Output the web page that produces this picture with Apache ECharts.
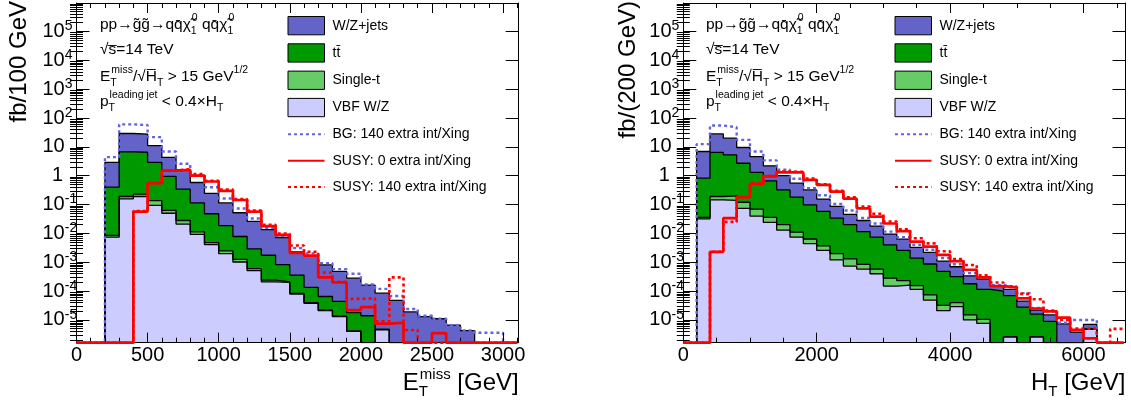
<!DOCTYPE html>
<html><head><meta charset="utf-8">
<script src="https://cdn.jsdelivr.net/npm/echarts@6/dist/echarts.min.js"></script>
<style>html,body{margin:0;padding:0;background:#fff}#c{width:1131px;height:402px}</style>
</head><body><div id="c"></div>
<script>
// ---------------- data ----------------
// Left panel: E_T^miss, 100 GeV bins (lower edges 0..3000, upper edge 3100)
const metEdges = [0,100,200,300,400,500,600,700,800,900,1000,1100,1200,1300,1400,1500,1600,1700,1800,1900,2000,2100,2200,2300,2400,2500,2600,2700,2800,2900,3000,3100];
// stack heights (top of each layer of the stack)
const metWZ   = [0,0,2.9,29,27.6,11.1,4.3,1.6,0.58,0.245,0.114,0.052,0.026,0.0135,0.0072,0.0023,0.0017,8.1e-4,4.8e-4,2.8e-4,1.6e-4,8.5e-5,4.8e-5,1.9e-5,1.3e-5,1.1e-5,6.6e-6,4.3e-6,0,0,0];
const metTT   = [0,0,0.40,6.7,6.5,2.9,0.94,0.34,0.114,0.048,0.0187,0.0078,0.0029,0.00175,8.3e-4,3.6e-4,1.35e-4,6.5e-5,4.4e-5,1.8e-5,1.4e-5,4.7e-6,0,0,0,0,0,0,0,0,0];
const metST   = [0,0,0.0085,0.19,0.23,0.137,0.063,0.028,0.0113,0.0048,0.0025,0.00126,6.0e-4,2.4e-4,2.1e-4,8.3e-5,4.0e-5,2.2e-5,1.35e-5,4.2e-6,0,4.7e-6,0,0,0,0,0,0,0,0,0];
const metVBF  = [0,0,0.0074,0.158,0.19,0.093,0.050,0.021,0.0093,0.0041,0.0020,0.00102,5.1e-4,2.1e-4,2.0e-4,7.9e-5,3.8e-5,2.1e-5,1.3e-5,4.0e-6,0,4.5e-6,0,0,0,0,0,0,0,0,0];
const metBG140   = [0,0,4.4,60,57,21.7,6.9,2.6,0.99,0.40,0.162,0.073,0.033,0.0155,0.0082,0.0031,0.0020,9.3e-4,5.8e-4,4.0e-4,1.7e-4,1.2e-4,6.8e-5,2.4e-5,1.4e-5,1.1e-5,6.6e-6,4.3e-6,3.6e-6,3.6e-6,0];
const metSUSY0   = [0,0,0,0,0.057,0.55,1.5,1.6,1.0,0.63,0.30,0.144,0.057,0.018,0.0089,0.0021,0.0017,3.0e-4,2.0e-4,2.2e-5,2.8e-5,7.5e-6,8e-6,0,0,3.5e-6,0,0,0,0,0];
const metSUSY140 = [0,0,0,0,0.06,0.56,1.5,1.7,1.15,0.66,0.33,0.155,0.062,0.02,0.0098,0.0038,0.0023,4.4e-4,2.1e-4,5.4e-5,5.6e-5,9e-6,3e-4,4.5e-6,0,0,0,0,0,0,0];

// Right panel: H_T, 200 GeV bins (lower edges 0..6400, upper edge 6600)
const htEdges = [0,200,400,600,800,1000,1200,1400,1600,1800,2000,2200,2400,2600,2800,3000,3200,3400,3600,3800,4000,4200,4400,4600,4800,5000,5200,5400,5600,5800,6000,6200,6400,6600];
const htWZ   = [0,6.9,28,20,9.5,4.6,2.2,1.0,0.55,0.32,0.155,0.086,0.046,0.028,0.018,0.0095,0.0063,0.0033,0.0022,0.0011,7e-4,3.4e-4,2.6e-4,1.5e-4,1.15e-4,4.5e-5,2.2e-5,1.5e-5,7.3e-6,3.8e-6,7e-6,0,0];
const htTT   = [0,0.82,6.4,5.3,2.7,1.3,0.66,0.32,0.18,0.097,0.058,0.034,0.020,0.0116,0.0074,0.004,0.0026,0.0014,8.7e-4,4.8e-4,3.2e-4,1.8e-4,1.15e-4,1.0e-4,7e-5,2.8e-5,1.6e-5,9e-6,0,0,4.8e-6,0,0];
const htST   = [0,0.036,0.19,0.20,0.12,0.069,0.036,0.020,0.011,0.0064,0.0037,0.0020,0.0013,8.5e-4,5.8e-4,2.8e-4,2.3e-4,1.55e-4,7.4e-5,3.2e-5,4.0e-5,1.5e-5,1.05e-5,0,2.6e-6,0,2.6e-6,0,0,0,4.8e-6,0,0];
const htVBF  = [0,0.032,0.145,0.14,0.074,0.040,0.024,0.013,0.0074,0.0044,0.0026,0.0012,7.4e-4,5.8e-4,4.0e-4,1.5e-4,1.6e-4,1.15e-4,4.9e-5,2.1e-5,2.9e-5,1.0e-5,7.6e-6,0,2.6e-6,0,2.6e-6,0,0,0,4.8e-6,0,0];
const htBG140   = [0,12.4,55,48,17.4,6.9,3.4,1.6,0.78,0.37,0.21,0.105,0.062,0.034,0.022,0.0115,0.0074,0.004,0.0027,0.0014,8.5e-4,4.2e-4,3.0e-4,1.6e-4,1.4e-4,8.5e-5,2.6e-5,2.0e-5,8e-6,1e-5,1e-5,0,0];
const htSUSY0   = [0,0,0.0023,0.034,0.18,0.52,0.94,1.3,1.3,0.72,0.48,0.28,0.16,0.074,0.038,0.022,0.012,0.0052,0.0035,0.0018,0.0011,5.5e-4,3.0e-4,1.5e-4,1.35e-4,5.6e-5,2.5e-5,2.0e-5,1.2e-5,4.5e-6,2.3e-6,0,0];
const htSUSY140 = [0,0,0.0023,0.025,0.18,0.55,1.0,1.4,1.35,0.8,0.5,0.3,0.18,0.085,0.048,0.026,0.014,0.0068,0.0045,0.0024,0.0013,8e-4,3.5e-4,2e-4,1.4e-4,8e-5,5.2e-5,2.1e-5,1e-5,5e-6,5e-6,0,4.9e-6];

// axis tick values (decades carry labels)
const yDecadeTicks = [1e-5,1e-4,1e-3,1e-2,1e-1,1,10,100,1e3,1e4,1e5];
const seriesNames = ['W/Z+jets','tt\u0304','Single-t','VBF W/Z','BG: 140 extra int/Xing','SUSY: 0 extra int/Xing','SUSY: 140 extra int/Xing'];

// ---------------- styling ----------------
const FONT = '"Liberation Sans", Arial, Helvetica, sans-serif';
const COL = {wz:'#6464c8', tt:'#009900', st:'#66cc66', vbf:'#ccccff', bg:'#6464dc', red:'#ff0000'};
const Y_MIN = 1.63e-6, Y_MAX = 9.66e5;
const yMinorTicks = [];
for (let e = -6; e <= 5; e++) for (let m = 2; m <= 9; m++) { const v = m * Math.pow(10, e); if (v > Y_MIN && v < Y_MAX) yMinorTicks.push(v); }

function histData(edges, vals) {
  const pts = vals.map((v, i) => [edges[i], v > 0 ? v : Y_MIN]);
  const last = vals[vals.length - 1];
  pts.push([edges[edges.length - 1], last > 0 ? last : Y_MIN]);
  return pts;
}
function fmtPow(v) {
  const e = Math.round(Math.log10(v));
  if (e === 0) return '{one|1}';
  if (e === 1) return '{b|10}';
  return '{b|10}{s|' + e + '}';
}

const panels = [
  { edges: metEdges, wz: metWZ, tt: metTT, st: metST, vbf: metVBF, bg: metBG140, s0: metSUSY0, s140: metSUSY140,
    grid: {left: 76.5, top: 3, width: 442.2, height: 339.7}, xMax: 3110, xInt: 500, xMinor: 5,
    legendLeft: 287, textLeft: 100, yTitle: 'fb/100 GeV', yTitleX: 19,
    xTitle: '{t|E}{sb|T}{sp|miss}{t| [GeV]}' },
  { edges: htEdges, wz: htWZ, tt: htTT, st: htST, vbf: htVBF, bg: htBG140, s0: htSUSY0, s140: htSUSY140,
    grid: {left: 683.3, top: 3, width: 442.2, height: 339.7}, xMax: 6630, xInt: 2000, xMinor: 4,
    legendLeft: 894, textLeft: 706, yTitle: 'fb/(200 GeV)', yTitleX: 628,
    xTitle: '{t|H}{sn|T}{t| [GeV]}' }
];

const grids = [], xAxes = [], yAxes = [], series = [], legends = [], graphics = [];
const tickLine = {color: '#000', width: 1};

panels.forEach((P, p) => {
  grids.push(Object.assign({}, P.grid));
  ['bottom', 'top'].forEach(pos => {
    xAxes.push({
      type: 'value', gridIndex: p, position: pos, min: 0, max: P.xMax, interval: P.xInt, z: 10,
      axisLine: {show: true, onZero: false, lineStyle: tickLine},
      axisTick: {show: true, inside: true, length: 10, lineStyle: tickLine},
      minorTick: {show: true, splitNumber: P.xMinor, length: 5, lineStyle: tickLine},
      axisLabel: {show: pos === 'bottom', margin: 3, fontSize: 20, fontFamily: FONT, color: '#000',
        formatter: v => (v % P.xInt === 0 ? String(v) : '')},
      splitLine: {show: false}, minorSplitLine: {show: false}
    });
  });
  ['left', 'right'].forEach(pos => {
    yAxes.push({
      type: 'log', logBase: 10, gridIndex: p, position: pos, min: Y_MIN, max: Y_MAX, z: 10,
      axisLine: {show: true, onZero: false, lineStyle: tickLine},
      axisTick: {show: true, inside: true, length: 13, customValues: yDecadeTicks, lineStyle: tickLine},
      axisLabel: pos === 'left' ? {
        show: true, customValues: yDecadeTicks, align: 'left', margin: 34, formatter: fmtPow,
        rich: {
          b: {fontSize: 20, fontFamily: FONT, color: '#000', lineHeight: 24},
          one: {fontSize: 20, fontFamily: FONT, color: '#000', lineHeight: 24, padding: [0, 0, 0, 9.5]},
          s: {fontSize: 14, fontFamily: FONT, color: '#000', lineHeight: 14, verticalAlign: 'top'}
        }
      } : {show: false},
      splitLine: {show: false}, minorTick: {show: false}
    });
    yAxes.push({
      type: 'log', logBase: 10, gridIndex: p, position: pos, min: Y_MIN, max: Y_MAX, z: 10,
      axisLine: {show: false},
      axisTick: {show: true, inside: true, length: 6.5, customValues: yMinorTicks, lineStyle: tickLine},
      axisLabel: {show: false}, splitLine: {show: false}, minorTick: {show: false}
    });
  });
  const xi = p * 2, yi = p * 4;
  const base = {type: 'line', step: 'end', symbol: 'none', showSymbol: false, xAxisIndex: xi, yAxisIndex: yi,
    silent: true, clip: true, emphasis: {disabled: true}};
  const fills = [['wz', COL.wz, 0], ['tt', COL.tt, 1], ['st', COL.st, 2], ['vbf', COL.vbf, 3]];
  fills.forEach(([k, c, n]) => {
    series.push(Object.assign({}, base, {
      name: seriesNames[n], data: histData(P.edges, P[k]), color: c,
      lineStyle: {color: '#000', width: 1.3},
      areaStyle: {color: c, opacity: 1, origin: 'start'}
    }));
  });
  series.push(Object.assign({}, base, {name: seriesNames[4], data: histData(P.edges, P.bg), color: COL.bg,
    lineStyle: {color: COL.bg, width: 2.4, type: [3, 3]}}));
  series.push(Object.assign({}, base, {name: seriesNames[5], data: histData(P.edges, P.s0), color: COL.red, z: 11,
    lineStyle: {color: COL.red, width: 2.7}}));
  series.push(Object.assign({}, base, {name: seriesNames[6], data: histData(P.edges, P.s140), color: COL.red, z: 11,
    lineStyle: {color: COL.red, width: 2.6, type: [3, 3]}}));

  const noSym = {opacity: 0};
  legends.push({
    orient: 'vertical', left: P.legendLeft, top: 16, padding: 0, itemGap: 8, itemWidth: 36.5, itemHeight: 18.3,
    selectedMode: false,
    textStyle: {fontSize: 14, fontFamily: FONT, color: '#000', lineHeight: 18.3, padding: [0, 0, 0, 3]},
    data: [
      {name: seriesNames[0], icon: 'rect', itemStyle: {color: COL.wz, borderColor: '#000', borderWidth: 1}},
      {name: seriesNames[1], icon: 'rect', itemStyle: {color: COL.tt, borderColor: '#000', borderWidth: 1}},
      {name: seriesNames[2], icon: 'rect', itemStyle: {color: COL.st, borderColor: '#000', borderWidth: 1}},
      {name: seriesNames[3], icon: 'rect', itemStyle: {color: COL.vbf, borderColor: '#000', borderWidth: 1}},
      {name: seriesNames[4], itemStyle: noSym}, {name: seriesNames[5], itemStyle: noSym}, {name: seriesNames[6], itemStyle: noSym}
    ]
  });

  const rich = {
    m: {fontSize: 15.5, fontFamily: FONT, fill: '#000', lineHeight: 24, verticalAlign: 'middle', align: 'left'},
    sp: {fontSize: 10.5, fontFamily: FONT, fill: '#000', lineHeight: 12, verticalAlign: 'top', align: 'left'},
    sb: {fontSize: 10.5, fontFamily: FONT, fill: '#000', lineHeight: 12, verticalAlign: 'bottom', width: 1, align: 'left'},
    sn: {fontSize: 10.5, fontFamily: FONT, fill: '#000', lineHeight: 12, verticalAlign: 'bottom', align: 'left'}
  };
  const lines = [
    ['{m|pp\u2192g\u0303g\u0303\u2192qq\u0304\u03C7\u0303}{sb|1}{sp|0}{m| qq\u0304\u03C7\u0303}{sb|1}{sp|0}', 25],
    ['{m|\u221As\u0305=14 TeV}', 50],
    ['{m|E}{sb|T}{sp|miss}{m|/\u221AH\u0305}{sn|T}{m| > 15 GeV}{sp|1/2}', 77],
    ['{m|p}{sb|T}{sp|leading jet}{m| < 0.4\u00D7H}{sn|T}', 102]
  ];
  lines.forEach(([t, y]) => graphics.push({type: 'text', x: P.textLeft, y: y, z: 20,
    style: {text: t, rich: rich, align: 'left', verticalAlign: 'middle', fill: '#000', fontFamily: FONT, fontSize: 15.5}}));

  graphics.push({type: 'text', x: P.yTitleX, y: 1, rotation: Math.PI / 2, z: 20,
    style: {text: P.yTitle, fontSize: 24, fontFamily: FONT, fill: '#000', align: 'right', verticalAlign: 'middle'}});
  graphics.push({type: 'text', x: P.grid.left + P.grid.width, y: 383, z: 20,
    style: {text: P.xTitle, align: 'right', verticalAlign: 'middle', fill: '#000', fontFamily: FONT, fontSize: 24,
      rich: {
        t: {fontSize: 24, fontFamily: FONT, fill: '#000', lineHeight: 32, verticalAlign: 'middle', align: 'left'},
        sp: {fontSize: 15, fontFamily: FONT, fill: '#000', lineHeight: 15, verticalAlign: 'top', align: 'left'},
        sb: {fontSize: 15, fontFamily: FONT, fill: '#000', lineHeight: 15, verticalAlign: 'bottom', width: 1, align: 'left'},
        sn: {fontSize: 15, fontFamily: FONT, fill: '#000', lineHeight: 15, verticalAlign: 'bottom', align: 'left'}
      }}});
});

const chart = echarts.init(document.getElementById('c'), null, {renderer: 'canvas'});
chart.setOption({
  animation: false,
  backgroundColor: '#fff',
  grid: grids, xAxis: xAxes, yAxis: yAxes, series: series, legend: legends,
  graphic: graphics
});
</script>
</body></html>
